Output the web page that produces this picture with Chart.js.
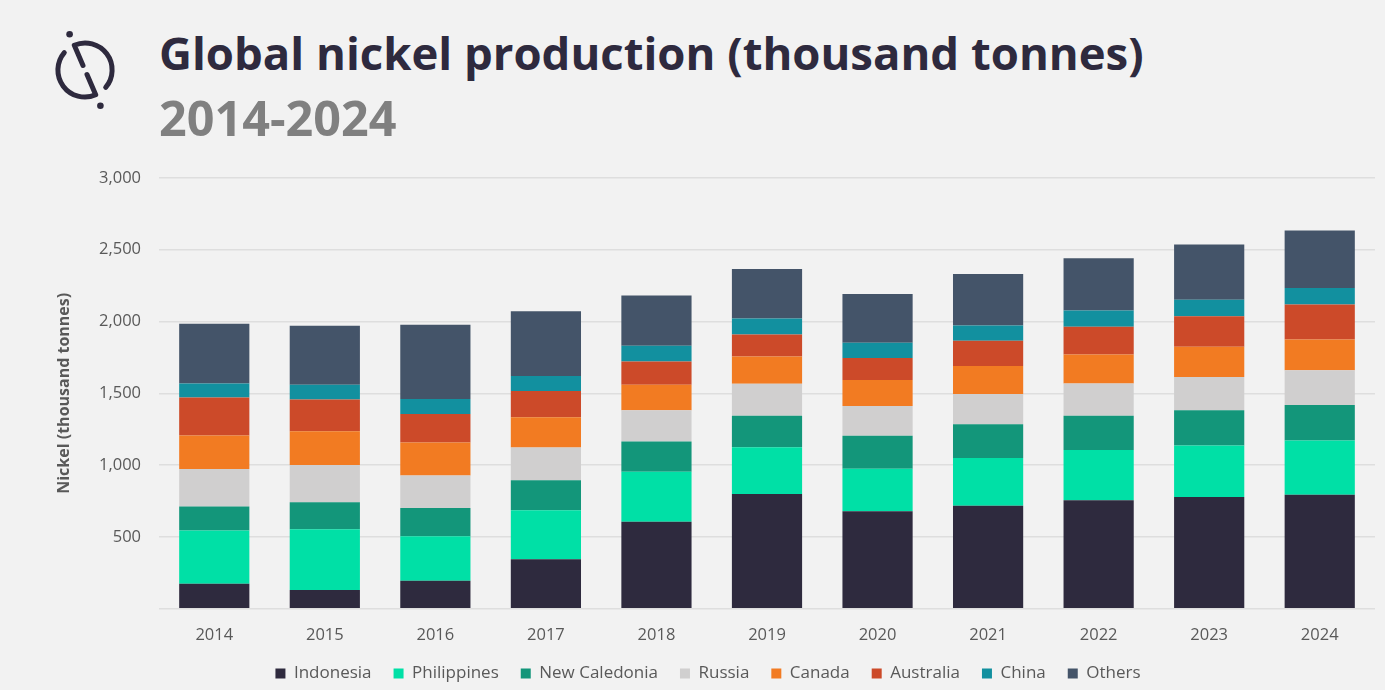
<!DOCTYPE html>
<html>
<head>
<meta charset="utf-8">
<script src="https://cdn.jsdelivr.net/npm/chart.js@4.4.1/dist/chart.umd.min.js"></script>
<style>
  html, body { margin:0; padding:0; background:#f2f2f2; }
  body { width:1385px; height:690px; position:relative; overflow:hidden; font-family:"Open Sans", sans-serif; }
  #logo { position:absolute; left:0; top:0; }
  #title { position:absolute; left:159px; top:21px; font-size:45.5px; font-weight:700; color:#2e2a3e; white-space:nowrap; }
  #subtitle { position:absolute; left:159px; top:84px; font-size:48.5px; font-weight:700; color:#808080; white-space:nowrap; }
  #wrap { position:absolute; left:0; top:150px; width:1385px; height:542px; }
</style>
</head>
<body>
<svg id="logo" width="140" height="120" viewBox="0 0 140 120">
  <g fill="none" stroke="#2e2a3e" stroke-width="5" stroke-linecap="round" stroke-linejoin="round">
    <path d="M 83.0 65.4 L 74.3 45.2 A 27 27 0 0 1 105.7 87.4"/>
    <path d="M 87.0 74.6 L 95.7 94.8 A 27 27 0 0 1 64.3 52.6"/>
  </g>
  <circle cx="69.6" cy="34.2" r="3.3" fill="#2e2a3e"/>
  <circle cx="100.4" cy="105.8" r="3.3" fill="#2e2a3e"/>
</svg>
<div id="title">Global nickel production (thousand tonnes)</div>
<div id="subtitle">2014-2024</div>
<div id="wrap"><canvas id="c"></canvas></div>
<script>
const years = ['2014','2015','2016','2017','2018','2019','2020','2021','2022','2023','2024'];
const indonesia    = [174, 130, 194, 345, 606, 799, 678, 717, 755, 778, 794];
const philippines  = [370, 423, 311, 340, 348, 326, 297, 332, 351, 359, 377];
const newCaledonia = [167, 188, 196, 209, 210, 218, 229, 236, 237, 245, 248];
const russia       = [261, 259, 227, 229, 218, 224, 208, 210, 226, 231, 241];
const canada       = [234, 236, 229, 210, 178, 190, 180, 195, 202, 211, 215];
const australia    = [264, 220, 199, 183, 162, 153, 153, 176, 192, 213, 243];
const china        = [99, 104, 105, 104, 109, 111, 107, 106, 113, 114, 116];
const others       = [415, 410, 516, 452, 350, 345, 340, 359, 364, 386, 400];
const yTicks = [0, 500, 1000, 1500, 2000, 2500, 3000];

const series = [
  ['Indonesia', indonesia, '#2e2a3e'],
  ['Philippines', philippines, '#00e0a6'],
  ['New Caledonia', newCaledonia, '#13967a'],
  ['Russia', russia, '#d0cfcf'],
  ['Canada', canada, '#f27b22'],
  ['Australia', australia, '#cc4a29'],
  ['China', china, '#12909f'],
  ['Others', others, '#445469']
];

new Chart(document.getElementById('c'), {
  type: 'bar',
  data: {
    labels: years,
    datasets: series.map(s => ({
      label: s[0], data: s[1], backgroundColor: s[2], borderWidth: 0,
      categoryPercentage: 0.635, barPercentage: 1.0
    }))
  },
  options: {
    responsive: true,
    maintainAspectRatio: false,
    animation: false,
    layout: { padding: { top: 10, right: 10, left: 41, bottom: 0 } },
    plugins: {
      legend: {
        position: 'bottom',
        labels: { boxWidth: 10, boxHeight: 10, padding: 22, color: '#595959',
                  font: { family: 'Open Sans', size: 17 } }
      },
      tooltip: { enabled: false }
    },
    scales: {
      x: {
        stacked: true,
        grid: { display: false },
        border: { display: false },
        afterFit: ax => { ax.height = ax.height - 10.5; },
        ticks: { color: '#595959', font: { family: 'Open Sans', size: 16.5 }, padding: 8.5 }
      },
      y: {
        stacked: true,
        min: 0, max: 3000,
        afterBuildTicks: ax => { ax.ticks = yTicks.map(v => ({ value: v })); },
        afterFit: ax => { ax.width = 118; },
        grid: { color: '#dedede', lineWidth: 1.5, drawTicks: false },
        border: { display: false },
        ticks: {
          color: '#595959', font: { family: 'Open Sans', size: 16.5 }, padding: 18,
          callback: v => v === 0 ? '' : v.toLocaleString('en-US')
        },
        title: { display: true, text: 'Nickel (thousand tonnes)', color: '#595959',
                 font: { family: 'Open Sans', size: 16, weight: 'bold' }, padding: { top: 14, bottom: 0 } }
      }
    }
  }
});
</script>
</body>
</html>
